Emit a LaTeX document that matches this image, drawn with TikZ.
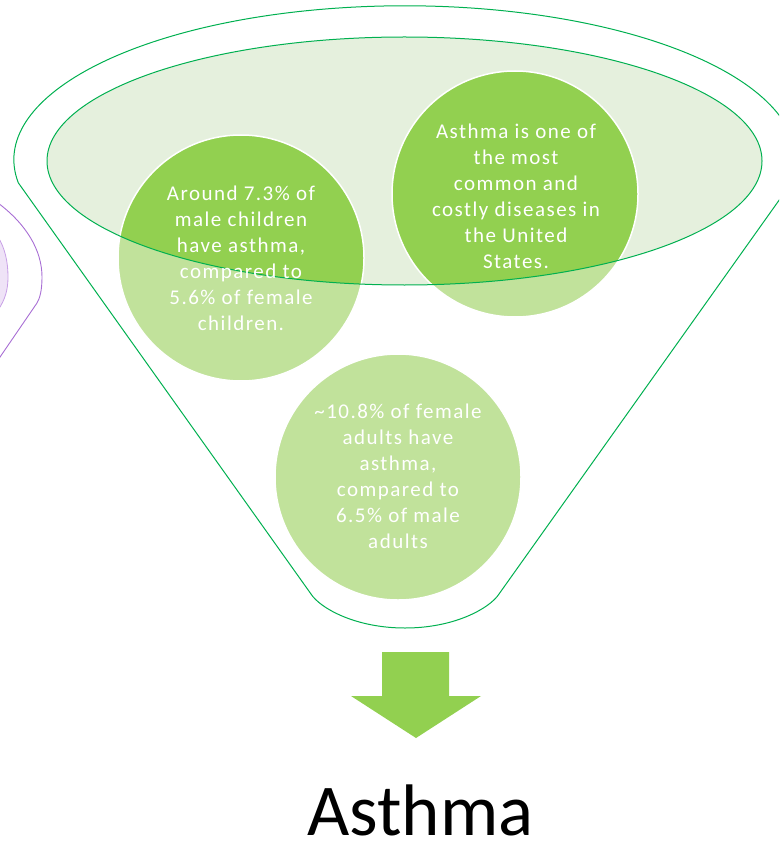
\documentclass[tikz,border=0pt]{standalone}
\usepackage{fontspec}
\setmainfont{Carlito}
\newfontfamily\bubblefont[LetterSpace=7]{Carlito}

\definecolor{funnelgreen}{RGB}{0,176,80}
\definecolor{bowlfill}{RGB}{229,240,221}
\definecolor{lightleaf}{RGB}{193,226,155}
\definecolor{leaf}{RGB}{146,208,80}
\definecolor{violetline}{RGB}{168,110,212}
\definecolor{violetsoft}{RGB}{200,160,230}
\definecolor{violetfill}{RGB}{239,227,247}

\tikzset{
  outline/.style={draw=funnelgreen, line width=1pt},
  bubble/.style={circle, minimum size=246pt, inner sep=0pt, fill=lightleaf},
  bubbletext/.style={text=white, align=center, font=\bubblefont\fontsize{21}{26}\selectfont, inner sep=0pt},
}

\begin{document}
\begin{tikzpicture}[x=1pt, y=-1pt]
  \useasboundingbox (0,0) rectangle (779,842);
  \begin{scope}
    \clip (0,0) rectangle (779,842);

    % neighbouring funnel, cut off at the left edge
    \draw[violetline, line width=0.9pt]
      (-2,203) .. controls (26,224) and (42,250) .. (42,277)
      .. controls (42,290) and (40,298) .. (37,303) -- (-2,360);
    \draw[violetsoft, fill=violetfill, line width=0.8pt]
      (-2,237) .. controls (5,248) and (8,262) .. (8,277)
      .. controls (8,290) and (5,300) .. (-2,310);

    % funnel body: upper rim, sloping sides, rounded spout
    \draw[outline]
      (18.3,182.8) arc[start angle=188.6, end angle=-8.6, x radius=391pt, y radius=154pt]
      -- (499,594) .. controls (490,608) and (455,628) .. (405,628)
      .. controls (355,628) and (320,608) .. (311,594) -- cycle;

    % inner bowl
    \fill[bowlfill] (404.5,161) ellipse[x radius=357.5pt, y radius=124pt];

    % the three bubbles
    \node[bubble] (b1) at (241,258) {};
    \node[bubble] (b2) at (515,194) {};
    \node[bubble] (b3) at (398,477) {};

    % darker tone where the bubbles lie inside the bowl
    \begin{scope}
      \clip (404.5,161) ellipse[x radius=357.5pt, y radius=124pt];
      \foreach \b in {b1,b2,b3}
        \fill[leaf] (\b.center) circle[radius=123pt];
    \end{scope}
    \foreach \b in {b1,b2,b3}
      \draw[white, line width=1.5pt] (\b.center) circle[radius=123pt];

    \draw[outline] (404.5,161) ellipse[x radius=357.5pt, y radius=124pt];

    % bubble texts
    \node[bubbletext] (t1) at (b1) {Around 7.3\% of\\male children\\have asthma,\\compared to\\5.6\% of female\\children.};
    \node[bubbletext] (t2) at (516,196) {Asthma is one of\\the most\\common and\\costly diseases in\\the United\\States.};
    \node[bubbletext] (t3) at (398,476) {\textasciitilde10.8\% of female\\adults have\\asthma,\\compared to\\6.5\% of male\\adults};

    % down arrow
    \fill[leaf] (382,652) -- (449,652) -- (449,696) -- (481,696)
      -- (416,738) -- (351,696) -- (382,696) -- cycle;

    % result
    \node[anchor=base, inner sep=0pt, font=\fontsize{73}{88}\selectfont] (result) at (420.5,835) {Asthma};
  \end{scope}
\end{tikzpicture}
\end{document}
